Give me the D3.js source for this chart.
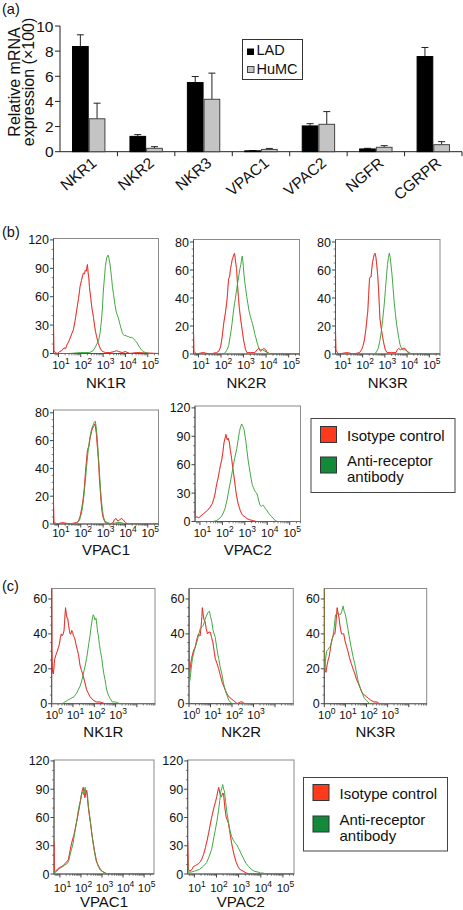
<!DOCTYPE html>
<html><head><meta charset="utf-8">
<script src="https://cdn.jsdelivr.net/npm/d3@7"></script>
<style>
body{margin:0;background:#fff}
svg{display:block}
text{font-family:"Liberation Sans",Arial,Helvetica,sans-serif;fill:#111}
</style>
</head><body>
<svg id="fig" width="463" height="910"></svg>
<script>
// ================= DATA =================
// Panel (a): relative mRNA expression (x100)
const categories = ["NKR1","NKR2","NKR3","VPAC1","VPAC2","NGFR","CGRPR"];
const seriesNames = ["LAD","HuMC"];
const ladValues  = [8.37, 1.22, 5.50, 0.07, 2.05, 0.22, 7.57];
const ladErrors  = [0.93, 0.14, 0.48, 0.02, 0.18, 0.05, 0.72];
const humcValues = [2.62, 0.27, 4.17, 0.18, 2.18, 0.35, 0.56];
const humcErrors = [1.24, 0.13, 2.08, 0.08, 1.01, 0.13, 0.24];
const yTicksA = [0, 2, 4, 6, 8, 10];

// Histogram axes: exponent tick labels
const expTicksWide = [1, 2, 3, 4, 5];
const expTicksNarrow = [0, 1, 2, 3];
const legendLabels = ["Isotype control", "Anti-receptor\nantibody"];

// Histogram curves: [log10(fluorescence), cell count]
// (b) LAD
const bNK1R_iso = [[0.78,32],[0.80,3],[0.85,1],[0.95,0],[1.05,2],[1.15,3],[1.25,6],[1.32,5],[1.38,9],[1.45,12],[1.52,16],[1.6,21],[1.67,25],[1.75,35],[1.82,46],[1.9,58],[1.97,71],[2.03,77],[2.08,82],[2.12,85],[2.17,84],[2.2,88],[2.25,87],[2.28,92],[2.3,94],[2.33,85],[2.36,80],[2.39,70],[2.45,58],[2.5,48],[2.57,38],[2.62,29],[2.67,22],[2.72,17],[2.78,11],[2.86,6],[2.93,3],[3.0,2],[3.1,1],[3.3,1],[3.5,2],[3.6,3],[3.7,2],[3.85,1],[4.0,2],[4.2,0],[4.5,1],[5.48,0]];
const bNK1R_anti = [[0.78,0],[1.5,0],[2.0,1],[2.4,1],[2.55,3],[2.64,6],[2.72,10],[2.8,14],[2.86,21],[2.92,33],[2.97,48],[3.01,66],[3.06,80],[3.1,92],[3.16,101],[3.2,103],[3.23,104],[3.26,101],[3.3,96],[3.34,88],[3.38,80],[3.42,70],[3.47,62],[3.53,52],[3.58,45],[3.63,41],[3.68,38],[3.74,32],[3.8,27],[3.86,22],[3.9,20],[3.96,19],[4.02,19],[4.08,18],[4.13,18],[4.2,17],[4.28,17],[4.35,16],[4.42,14],[4.5,12],[4.57,9],[4.65,6],[4.72,4],[4.8,2],[4.9,1],[5.05,0],[5.48,0]];
const bNK2R_iso = [[0.78,17],[0.8,2],[0.9,0],[1.2,1],[1.5,0],[1.8,1],[1.9,2],[1.98,5],[2.05,12],[2.12,22],[2.2,30],[2.27,39],[2.31,48],[2.34,54],[2.38,55],[2.42,61],[2.46,64],[2.49,67],[2.53,69],[2.57,71],[2.6,72],[2.63,68],[2.66,64],[2.69,61],[2.73,50],[2.77,41],[2.81,33],[2.87,25],[2.94,17],[3.0,10],[3.05,6],[3.09,3],[3.15,1],[3.3,1],[3.5,1],[3.6,3],[3.68,4],[3.75,2],[3.82,3],[3.9,4],[3.98,3],[4.05,1],[4.2,0],[5.5,0]];
const bNK2R_anti = [[0.78,0],[2.1,0],[2.19,1],[2.27,3],[2.34,6],[2.4,12],[2.45,17],[2.49,22],[2.54,29],[2.6,36],[2.64,40],[2.7,47],[2.75,52],[2.8,57],[2.84,61],[2.88,64],[2.91,67],[2.94,70],[2.97,66],[3.01,58],[3.05,52],[3.09,47],[3.14,41],[3.19,36],[3.24,31],[3.3,27],[3.35,24],[3.39,22],[3.45,18],[3.5,14],[3.54,12],[3.6,8],[3.64,6],[3.68,4],[3.75,3],[3.85,3],[3.95,2],[4.05,1],[4.2,0],[5.5,0]];
const bNK3R_iso = [[0.78,17],[0.8,3],[0.9,0],[1.3,1],[1.6,0],[1.86,1],[1.95,3],[2.02,6],[2.08,10],[2.15,18],[2.2,26],[2.23,30],[2.27,42],[2.31,54],[2.35,55],[2.38,55],[2.42,62],[2.45,66],[2.48,68],[2.52,71],[2.56,72],[2.6,69],[2.64,63],[2.68,56],[2.72,45],[2.75,35],[2.78,25],[2.84,18],[2.9,12],[2.96,7],[3.02,3],[3.1,1],[3.3,1],[3.5,1],[3.56,3],[3.62,4],[3.7,3],[3.8,4],[3.9,4],[4.0,2],[4.1,0],[5.5,0]];
const bNK3R_anti = [[0.78,0],[2.5,0],[2.61,1],[2.7,4],[2.77,9],[2.83,15],[2.9,24],[2.98,37],[3.03,47],[3.08,57],[3.12,64],[3.16,69],[3.2,72],[3.24,69],[3.28,63],[3.32,57],[3.37,47],[3.42,37],[3.48,28],[3.53,21],[3.57,17],[3.63,11],[3.68,7],[3.72,5],[3.8,3],[3.9,3],[4.0,2],[4.1,1],[4.2,0],[5.5,0]];
const bVPAC1_iso = [[0.78,17],[0.8,2],[0.9,0],[1.2,1],[1.5,0],[1.8,1],[1.9,2],[1.98,6],[2.05,12],[2.1,17],[2.16,26],[2.21,37],[2.26,46],[2.3,53],[2.34,55],[2.37,56],[2.41,61],[2.45,64],[2.49,67],[2.53,69],[2.57,70],[2.61,71],[2.64,72],[2.67,68],[2.7,65],[2.73,58],[2.76,53],[2.8,44],[2.83,34],[2.87,25],[2.9,18],[2.94,11],[2.98,6],[3.04,3],[3.1,1],[3.3,0],[3.45,1],[3.5,3],[3.58,4],[3.66,2],[3.74,3],[3.82,4],[3.9,3],[4.0,1],[4.1,0],[5.5,0]];
const bVPAC1_anti = [[0.78,0],[1.7,0],[1.85,1],[1.95,3],[2.02,7],[2.08,12],[2.14,20],[2.2,30],[2.26,41],[2.32,51],[2.38,59],[2.44,65],[2.5,69],[2.55,71],[2.6,73],[2.65,74],[2.69,70],[2.73,63],[2.77,54],[2.81,44],[2.85,34],[2.89,24],[2.93,16],[2.97,10],[3.02,5],[3.08,2],[3.2,1],[3.4,0],[3.6,1],[3.8,1],[4.0,0],[5.5,0]];
const bVPAC2_iso = [[0.78,35],[0.8,4],[0.86,5],[0.95,4],[1.05,6],[1.15,8],[1.25,10],[1.35,12],[1.45,15],[1.55,19],[1.62,24],[1.67,29],[1.72,36],[1.77,42],[1.82,47],[1.87,54],[1.92,60],[1.97,65],[2.02,73],[2.07,83],[2.12,88],[2.16,92],[2.19,88],[2.22,86],[2.26,88],[2.29,85],[2.31,84],[2.35,76],[2.39,70],[2.42,65],[2.46,57],[2.52,47],[2.57,38],[2.6,32],[2.64,26],[2.7,19],[2.75,15],[2.79,12],[2.86,8],[2.93,6],[3.01,5],[3.1,3],[3.2,2],[3.35,1],[3.5,0],[5.5,0]];
const bVPAC2_anti = [[0.78,0],[1.6,0],[1.75,1],[1.85,3],[1.95,5],[2.04,9],[2.12,14],[2.2,22],[2.27,31],[2.34,40],[2.42,50],[2.49,60],[2.56,68],[2.64,77],[2.7,86],[2.76,95],[2.81,100],[2.86,103],[2.9,101],[2.94,99],[2.97,97],[3.02,89],[3.06,82],[3.09,76],[3.14,66],[3.19,58],[3.24,51],[3.29,44],[3.33,39],[3.38,36],[3.43,33],[3.48,31],[3.53,30],[3.58,26],[3.63,21],[3.68,17],[3.73,16],[3.78,17],[3.83,17],[3.88,15],[3.93,13],[3.98,12],[4.05,9],[4.12,7],[4.2,5],[4.28,3],[4.35,1],[4.45,0],[5.5,0]];
// (c) HuMC
const cNK1R_iso = [[0,70],[0.01,30],[0.04,18],[0.08,17],[0.12,23],[0.15,26],[0.2,28],[0.26,30],[0.31,32],[0.36,34],[0.41,38],[0.45,40],[0.5,39],[0.54,40],[0.58,42],[0.61,48],[0.65,55],[0.68,52],[0.72,49],[0.75,49],[0.79,45],[0.83,42],[0.86,40],[0.9,40],[0.94,42],[0.98,41],[1.02,39],[1.06,38],[1.09,37],[1.14,34],[1.2,31],[1.26,28],[1.33,22],[1.4,19],[1.48,16],[1.56,12],[1.64,8],[1.72,6],[1.8,4],[1.95,2],[2.1,1],[2.27,1],[2.5,0],[4.85,0]];
const cNK1R_anti = [[0,0],[0.5,0],[0.62,1],[0.75,2],[0.9,3],[1.05,4],[1.17,6],[1.25,8],[1.33,10],[1.41,13],[1.48,17],[1.56,21],[1.64,26],[1.7,31],[1.75,35],[1.8,39],[1.85,44],[1.9,48],[1.95,51],[1.99,50],[2.03,48],[2.08,49],[2.12,45],[2.16,41],[2.19,39],[2.24,34],[2.29,30],[2.35,26],[2.4,21],[2.45,17],[2.5,14],[2.54,11],[2.58,8],[2.66,5],[2.74,3],[2.85,1],[3.0,1],[3.2,0],[4.85,0]];
const cNK2R_iso = [[0,70],[0.01,28],[0.03,18],[0.07,22],[0.12,26],[0.18,29],[0.23,31],[0.28,32],[0.33,35],[0.39,38],[0.44,40],[0.48,39],[0.52,39],[0.56,44],[0.6,50],[0.62,55],[0.66,51],[0.7,48],[0.75,47],[0.8,43],[0.86,40],[0.92,41],[0.99,41],[1.05,38],[1.11,35],[1.17,30],[1.22,26],[1.3,23],[1.38,20],[1.46,16],[1.55,12],[1.65,9],[1.75,6],[1.85,4],[1.95,3],[2.05,2],[2.15,1],[2.24,0],[2.4,1],[2.5,1],[2.55,0],[4.85,0]];
const cNK2R_anti = [[0,70],[0.01,12],[0.05,14],[0.1,20],[0.15,25],[0.2,28],[0.28,32],[0.36,35],[0.44,39],[0.52,43],[0.6,44],[0.67,45],[0.74,48],[0.8,50],[0.87,52],[0.95,53],[1.0,50],[1.06,47],[1.12,42],[1.17,40],[1.22,38],[1.28,33],[1.33,29],[1.38,26],[1.45,21],[1.53,17],[1.6,12],[1.68,8],[1.76,5],[1.85,2],[1.92,1],[2.0,0],[4.85,0]];
const cNK3R_iso = [[0,70],[0.01,30],[0.04,19],[0.08,18],[0.13,22],[0.18,25],[0.23,27],[0.27,30],[0.32,34],[0.37,37],[0.42,39],[0.46,40],[0.5,40],[0.54,44],[0.58,51],[0.61,55],[0.65,52],[0.7,49],[0.74,45],[0.78,42],[0.82,40],[0.87,40],[0.92,40],[0.98,36],[1.05,33],[1.12,30],[1.2,26],[1.28,23],[1.36,20],[1.45,17],[1.52,14],[1.6,12],[1.7,9],[1.8,6],[1.9,5],[2.0,4],[2.1,3],[2.2,2],[2.35,1],[2.5,1],[2.6,0],[4.85,0]];
const cNK3R_anti = [[0,70],[0.01,20],[0.05,24],[0.11,30],[0.17,31],[0.23,32],[0.29,33],[0.35,36],[0.42,39],[0.47,44],[0.53,51],[0.59,51],[0.66,52],[0.72,51],[0.77,51],[0.83,53],[0.89,56],[0.94,53],[1.0,51],[1.06,47],[1.13,42],[1.2,37],[1.28,32],[1.36,27],[1.44,23],[1.52,18],[1.6,13],[1.7,9],[1.8,6],[1.9,3],[2.0,2],[2.14,0],[4.85,0]];
const cVPAC1_iso = [[0.72,35],[0.74,3],[0.8,3],[0.84,4],[0.92,6],[1.0,7],[1.08,8],[1.16,9],[1.24,11],[1.32,13],[1.4,15],[1.46,22],[1.52,29],[1.56,33],[1.62,38],[1.67,42],[1.72,47],[1.77,53],[1.82,58],[1.87,64],[1.92,70],[1.97,77],[2.03,85],[2.07,89],[2.11,92],[2.15,86],[2.19,81],[2.23,86],[2.27,89],[2.31,80],[2.35,71],[2.4,62],[2.46,53],[2.52,42],[2.59,32],[2.65,24],[2.71,17],[2.75,13],[2.82,9],[2.9,6],[3.0,3],[3.14,1],[3.3,0],[5.47,0]];
const cVPAC1_anti = [[0.72,5],[0.74,1],[0.85,3],[0.95,5],[1.05,7],[1.15,8],[1.25,10],[1.35,11],[1.42,14],[1.48,20],[1.55,26],[1.62,32],[1.68,40],[1.73,47],[1.8,56],[1.87,67],[1.93,74],[1.98,78],[2.03,85],[2.08,87],[2.12,84],[2.16,88],[2.2,92],[2.23,85],[2.27,88],[2.31,84],[2.36,71],[2.42,61],[2.48,50],[2.54,39],[2.6,29],[2.66,21],[2.72,14],[2.78,11],[2.84,7],[2.92,4],[3.0,3],[3.15,1],[3.3,0],[5.47,0]];
const cVPAC2_iso = [[0.7,35],[0.73,5],[0.8,3],[0.9,5],[0.96,8],[1.05,9],[1.12,10],[1.19,11],[1.27,13],[1.34,16],[1.42,21],[1.5,28],[1.58,36],[1.65,44],[1.73,54],[1.8,62],[1.89,71],[1.95,76],[2.01,82],[2.06,88],[2.1,92],[2.14,87],[2.18,83],[2.23,82],[2.28,86],[2.32,85],[2.37,72],[2.43,61],[2.49,57],[2.54,54],[2.6,45],[2.66,36],[2.73,27],[2.8,20],[2.88,13],[2.97,8],[3.05,5],[3.2,3],[3.35,1],[3.5,0],[5.5,0]];
const cVPAC2_anti = [[0.7,15],[0.72,2],[0.85,2],[1.0,3],[1.24,5],[1.4,8],[1.55,12],[1.66,18],[1.78,26],[1.86,36],[1.94,46],[2.02,56],[2.09,67],[2.15,78],[2.2,88],[2.24,91],[2.28,95],[2.32,90],[2.36,88],[2.41,77],[2.48,64],[2.54,55],[2.6,47],[2.68,40],[2.76,36],[2.84,33],[2.92,31],[2.98,28],[3.03,26],[3.1,22],[3.19,18],[3.27,14],[3.34,11],[3.45,8],[3.57,5],[3.7,3],[3.88,2],[4.0,1],[4.1,1],[4.25,0],[5.5,0]];

// ================= DRAWING =================
const svg = d3.select("#fig");
svg.append("rect").attr("width",463).attr("height",910).attr("fill","#fff");
const RED = "#e8322c", GREEN = "#43a843";

function panelLabel(txt, x, y){
  svg.append("text").attr("x",x).attr("y",y).attr("font-size",14.5).text(txt);
}

// ---------- Panel (a) ----------
panelLabel("(a)", 2, 14);
const ga = svg.append("g");
const xA = d3.scaleBand().domain(categories).range([60, 462]).paddingInner(0).paddingOuter(0);
const xSub = d3.scaleBand().domain(seriesNames).range([0, xA.bandwidth()]).paddingInner(0).paddingOuter(0.72);
const yA = d3.scaleLinear().domain([0, 10]).range([151.7, 26]);

// y axis
ga.append("line").attr("x1",60).attr("x2",60).attr("y1",yA(10)).attr("y2",yA(0)).attr("stroke","#222").attr("stroke-width",1);
yTicksA.forEach(t=>{
  ga.append("line").attr("x1",55).attr("x2",60).attr("y1",yA(t)).attr("y2",yA(t)).attr("stroke","#222");
  ga.append("text").attr("x",53.5).attr("y",yA(t)).attr("dy","0.36em").attr("text-anchor","end").attr("font-size",15.5).text(t);
});
// x axis
ga.append("line").attr("x1",60).attr("x2",462).attr("y1",yA(0)).attr("y2",yA(0)).attr("stroke","#222");
categories.forEach((c,i)=>{
  const xe = xA(c)+xA.bandwidth();
  ga.append("line").attr("x1",xe).attr("x2",xe).attr("y1",yA(0)).attr("y2",yA(0)+4.5).attr("stroke","#222");
});
// bars
const seriesData = [
  {name:"LAD", vals:ladValues, errs:ladErrors, fill:"#000", stroke:"#000"},
  {name:"HuMC", vals:humcValues, errs:humcErrors, fill:"#c4c4c4", stroke:"#444"}
];
seriesData.forEach(s=>{
  categories.forEach((c,i)=>{
    const bx = xA(c)+xSub(s.name), bw = xSub.bandwidth();
    const v = s.vals[i], e = s.errs[i];
    const cx = bx + bw/2;
    ga.append("line").attr("x1",cx).attr("x2",cx).attr("y1",yA(v)).attr("y2",yA(v+e)).attr("stroke","#222").attr("stroke-width",1);
    ga.append("line").attr("x1",cx-3.5).attr("x2",cx+3.5).attr("y1",yA(v+e)).attr("y2",yA(v+e)).attr("stroke","#222").attr("stroke-width",1);
    ga.append("rect").attr("x",bx+0.5).attr("y",yA(v)).attr("width",bw-1).attr("height",Math.max(0.8,yA(0)-yA(v)))
      .attr("fill",s.fill).attr("stroke",s.stroke).attr("stroke-width",1);
  });
});
// category labels
categories.forEach(c=>{
  const cx = xA(c)+xA.bandwidth()/2;
  ga.append("text").attr("transform",`translate(${cx+9},${yA(0)+13}) rotate(-40)`)
    .attr("text-anchor","end").attr("font-size",15.5).text(c);
});
// y label
ga.append("text").attr("transform","translate(20,82) rotate(-90)").attr("text-anchor","middle").attr("font-size",16).text("Relative mRNA");
ga.append("text").attr("transform","translate(33.5,82) rotate(-90)").attr("text-anchor","middle").attr("font-size",16).text("expression (×100)");
// legend (a)
ga.append("rect").attr("x",242.5).attr("y",39.5).attr("width",60).attr("height",40).attr("fill","#fff").attr("stroke","#333");
ga.append("rect").attr("x",247).attr("y",48.5).attr("width",7).attr("height",6.5).attr("fill","#000");
ga.append("rect").attr("x",247.5).attr("y",66.5).attr("width",6.5).attr("height",6).attr("fill","#c4c4c4").attr("stroke","#444");
ga.append("text").attr("x",256.5).attr("y",55.3).attr("font-size",14.5).text(seriesNames[0]);
ga.append("text").attr("x",256.5).attr("y",73.5).attr("font-size",14.5).text(seriesNames[1]);

// ---------- Histograms ----------
let clipId = 0;
function drawHist(cfg){
  const g = svg.append("g");
  const x = d3.scaleLinear().domain(cfg.xDomain).range([cfg.x0, cfg.x1]);
  const y = d3.scaleLinear().domain([0, cfg.yMax]).range([cfg.yb, cfg.yt]);
  const id = "clip"+(clipId++);
  svg.append("clipPath").attr("id",id).append("rect")
    .attr("x",cfg.x0).attr("y",cfg.yt).attr("width",cfg.x1-cfg.x0).attr("height",cfg.yb-cfg.yt);
  g.append("rect").attr("x",cfg.x0).attr("y",cfg.yt).attr("width",cfg.x1-cfg.x0).attr("height",cfg.yb-cfg.yt)
    .attr("fill","#fff").attr("stroke","#8a8a8a").attr("stroke-width",1);
  g.append("line").attr("x1",cfg.x0).attr("x2",cfg.x0).attr("y1",cfg.yt).attr("y2",cfg.yb).attr("stroke","#555");
  g.append("line").attr("x1",cfg.x0).attr("x2",cfg.x1).attr("y1",cfg.yb).attr("y2",cfg.yb).attr("stroke","#555");
  const majors = d3.range(0, cfg.yTickMax+0.1, cfg.yStep);
  const minorStep = cfg.yStep/ cfg.yMinorDiv;
  d3.range(0, cfg.yTickMax+0.1, minorStep).forEach(t=>{
    const isMajor = majors.some(m=>Math.abs(m-t)<1e-6);
    g.append("line").attr("x1",cfg.x0-(isMajor?3.5:1.8)).attr("x2",cfg.x0).attr("y1",y(t)).attr("y2",y(t))
      .attr("stroke","#444").attr("stroke-width",isMajor?1:0.7);
  });
  majors.forEach(t=>{
    g.append("text").attr("x",cfg.x0-4.5).attr("y",y(t)).attr("dy","0.36em").attr("text-anchor","end")
      .attr("font-size",12.5).text(t);
  });
  const lo = Math.floor(cfg.xDomain[0]), hi = Math.ceil(cfg.xDomain[1]);
  for(let d=lo; d<=hi; d++){
    for(let k=1;k<=9;k++){
      const v = d + Math.log10(k);
      if(v < cfg.xDomain[0]-1e-6 || v > cfg.xDomain[1]+1e-6) continue;
      g.append("line").attr("x1",x(v)).attr("x2",x(v)).attr("y1",cfg.yb).attr("y2",cfg.yb+(k===1?3.5:1.8))
        .attr("stroke","#444").attr("stroke-width",k===1?1:0.7);
    }
  }
  cfg.xTicks.forEach(e=>{
    const t = g.append("text").attr("x",x(e)+2.5).attr("y",cfg.yb+cfg.labOff).attr("text-anchor","middle").attr("font-size",11.5);
    t.append("tspan").text("10");
    t.append("tspan").attr("dy",-5).attr("font-size",8.5).text(String(e));
  });
  g.append("text").attr("x",(cfg.x0+cfg.x1)/2).attr("y",cfg.yb+cfg.titleOff).attr("text-anchor","middle").attr("font-size",15).text(cfg.title);
  const line = d3.line().x(d=>x(d[0])).y(d=>y(d[1]));
  const cg = g.append("g").attr("clip-path",`url(#${id})`);
  cg.append("path").datum(cfg.iso).attr("d",line).attr("fill","none").attr("stroke",RED).attr("stroke-width",1).attr("stroke-linejoin","round");
  cg.append("path").datum(cfg.anti).attr("d",line).attr("fill","none").attr("stroke",GREEN).attr("stroke-width",1).attr("stroke-linejoin","round");
  cg.append("path").datum(cfg.iso).attr("d",line).attr("fill","none").attr("stroke",RED).attr("stroke-width",0.6).attr("stroke-opacity",0.45);
}

function legend(x0, y0, w, h, sq, rowY){
  const g = svg.append("g");
  g.append("rect").attr("x",x0).attr("y",y0).attr("width",w).attr("height",h).attr("fill","#fff").attr("stroke","#444");
  g.append("rect").attr("x",x0+9.5).attr("y",y0+rowY[0]).attr("width",sq).attr("height",sq).attr("fill","#ff3a1c").attr("stroke","#333");
  g.append("rect").attr("x",x0+9.5).attr("y",y0+rowY[1]).attr("width",sq).attr("height",sq).attr("fill","#128a3a").attr("stroke","#333");
  g.append("text").attr("x",x0+36).attr("y",y0+rowY[0]+14).attr("font-size",15).text(legendLabels[0]);
  const lines = legendLabels[1].split("\n");
  g.append("text").attr("x",x0+36).attr("y",y0+rowY[1]+8.5).attr("font-size",15).text(lines[0]);
  g.append("text").attr("x",x0+36).attr("y",y0+rowY[1]+24.5).attr("font-size",15).text(lines[1]);
}

// (b)
panelLabel("(b)", 2, 237);
const wide = [0.78, 5.48];
drawHist({x0:53.5,x1:158.5,yt:238.5,yb:353.5,yMax:121.5,yTickMax:120,yStep:30,yMinorDiv:3,xDomain:wide,xTicks:expTicksWide,labOff:15,titleOff:34,title:"NK1R",iso:bNK1R_iso,anti:bNK1R_anti});
drawHist({x0:193.5,x1:299.5,yt:239.5,yb:354,yMax:81.8,yTickMax:80,yStep:20,yMinorDiv:4,xDomain:wide,xTicks:expTicksWide,labOff:14.5,titleOff:33.5,title:"NK2R",iso:bNK2R_iso,anti:bNK2R_anti});
drawHist({x0:335.5,x1:440,yt:239.5,yb:354,yMax:81.8,yTickMax:80,yStep:20,yMinorDiv:4,xDomain:wide,xTicks:expTicksWide,labOff:14.5,titleOff:33.5,title:"NK3R",iso:bNK3R_iso,anti:bNK3R_anti});
drawHist({x0:53.5,x1:158.5,yt:410,yb:524,yMax:82,yTickMax:80,yStep:20,yMinorDiv:4,xDomain:wide,xTicks:expTicksWide,labOff:13,titleOff:31,title:"VPAC1",iso:bVPAC1_iso,anti:bVPAC1_anti});
drawHist({x0:195,x1:300.5,yt:406,yb:521.5,yMax:122,yTickMax:120,yStep:30,yMinorDiv:3,xDomain:wide,xTicks:expTicksWide,labOff:15.5,titleOff:33.5,title:"VPAC2",iso:bVPAC2_iso,anti:bVPAC2_anti});
legend(311, 418.5, 144, 74, 16, [8, 38.5]);

// (c)
panelLabel("(c)", 2, 591);
const narrow = [0, 4.85];
drawHist({x0:51.7,x1:155,yt:588.5,yb:703.7,yMax:66,yTickMax:60,yStep:20,yMinorDiv:4,xDomain:narrow,xTicks:expTicksNarrow,labOff:15.5,titleOff:33.5,title:"NK1R",iso:cNK1R_iso,anti:cNK1R_anti});
drawHist({x0:189,x1:293.3,yt:588.5,yb:703.7,yMax:66,yTickMax:60,yStep:20,yMinorDiv:4,xDomain:narrow,xTicks:expTicksNarrow,labOff:15.5,titleOff:33.5,title:"NK2R",iso:cNK2R_iso,anti:cNK2R_anti});
drawHist({x0:324.3,x1:426.7,yt:588.5,yb:703.7,yMax:66,yTickMax:60,yStep:20,yMinorDiv:4,xDomain:narrow,xTicks:expTicksNarrow,labOff:15.5,titleOff:33.5,title:"NK3R",iso:cNK3R_iso,anti:cNK3R_anti});
drawHist({x0:54,x1:154,yt:760,yb:874,yMax:121,yTickMax:120,yStep:30,yMinorDiv:3,xDomain:[0.72,5.47],xTicks:expTicksWide,labOff:18,titleOff:33,title:"VPAC1",iso:cVPAC1_iso,anti:cVPAC1_anti});
drawHist({x0:187.7,x1:294,yt:760,yb:874,yMax:121,yTickMax:120,yStep:30,yMinorDiv:3,xDomain:[0.7,5.5],xTicks:expTicksWide,labOff:18,titleOff:33,title:"VPAC2",iso:cVPAC2_iso,anti:cVPAC2_anti});
legend(303.5, 777.5, 144, 73.5, 16, [7, 38.5]);
</script>
</body></html>
